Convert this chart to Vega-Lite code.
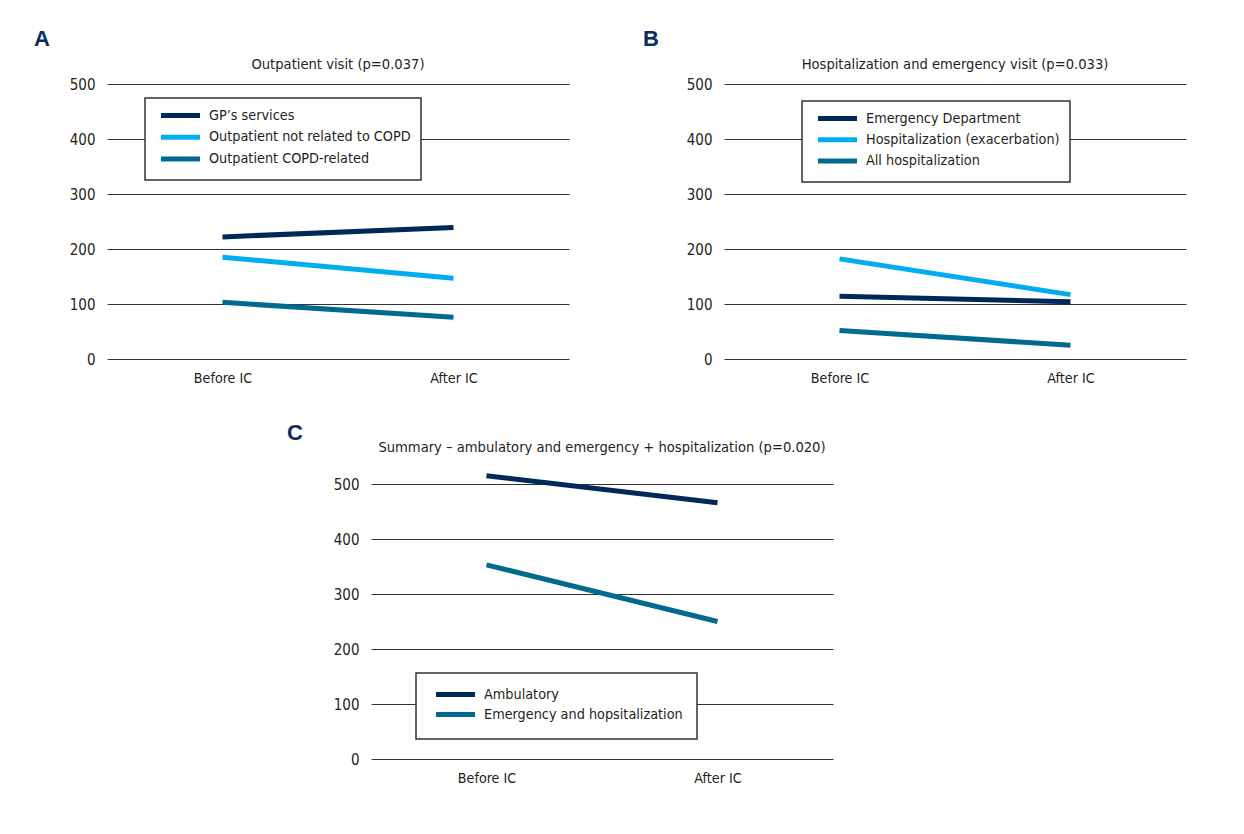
{
  "$schema": "https://vega.github.io/schema/vega-lite/v6.json",
  "background": "white",
  "padding": {"left": 34, "top": 27, "right": 5, "bottom": 5},
  "datasets": {
    "d": [
      {"panel": "A", "series": "GP’s services", "period": "Before IC", "value": 222},
      {"panel": "A", "series": "GP’s services", "period": "After IC", "value": 239},
      {"panel": "A", "series": "Outpatient not related to COPD", "period": "Before IC", "value": 185},
      {"panel": "A", "series": "Outpatient not related to COPD", "period": "After IC", "value": 147},
      {"panel": "A", "series": "Outpatient COPD-related", "period": "Before IC", "value": 103},
      {"panel": "A", "series": "Outpatient COPD-related", "period": "After IC", "value": 76},
      {"panel": "B", "series": "Emergency Department", "period": "Before IC", "value": 114},
      {"panel": "B", "series": "Emergency Department", "period": "After IC", "value": 104},
      {"panel": "B", "series": "Hospitalization (exacerbation)", "period": "Before IC", "value": 182},
      {"panel": "B", "series": "Hospitalization (exacerbation)", "period": "After IC", "value": 117},
      {"panel": "B", "series": "All hospitalization", "period": "Before IC", "value": 52},
      {"panel": "B", "series": "All hospitalization", "period": "After IC", "value": 25},
      {"panel": "C", "series": "Ambulatory", "period": "Before IC", "value": 515},
      {"panel": "C", "series": "Ambulatory", "period": "After IC", "value": 466},
      {"panel": "C", "series": "Emergency and hopsitalization", "period": "Before IC", "value": 353},
      {"panel": "C", "series": "Emergency and hopsitalization", "period": "After IC", "value": 250}
    ]
  },
  "config": {
    "view": {"stroke": null},
    "font": "DejaVu Sans Condensed, Liberation Sans Narrow, sans-serif",
    "axis": {"labelFont": "DejaVu Sans Condensed, Liberation Sans Narrow, sans-serif", "labelColor": "#231f20", "domain": false, "ticks": false, "tickSize": 0},
    "axisY": {"grid": true, "gridColor": "#333333", "gridWidth": 1, "labelFontSize": 15, "labelPadding": 12},
    "axisX": {"grid": false, "labelFontSize": 14.2, "labelPadding": 12, "labelAngle": 0},
    "title": {"font": "DejaVu Sans Condensed, Liberation Sans Narrow, sans-serif", "fontSize": 14.6, "fontWeight": "normal", "color": "#231f20"},
    "legend": {
      "labelFont": "DejaVu Sans Condensed, Liberation Sans Narrow, sans-serif",
      "labelFontSize": 14.3,
      "labelColor": "#231f20",
      "symbolType": "M-3.9,0H3.9",
      "symbolSize": 100,
      "symbolStrokeWidth": 5,
      "symbolOffset": 18,
      "labelOffset": 21,
      "padding": 10,
      "rowPadding": 0.8,
      "strokeColor": "#333333",
      "strokeWidth": 1.5,
      "fillColor": "white",
      "labelLimit": 400
    }
  },
  "columns": 1,
  "align": "none",
  "spacing": 36,
  "resolve": {"scale": {"color": "independent", "x": "independent", "y": "independent"}, "legend": {"color": "independent"}},
  "concat": [
    {
      "spacing": 74,
      "resolve": {"scale": {"color": "independent", "x": "independent", "y": "independent"}, "legend": {"color": "independent"}},
      "hconcat": [
        {
          "title": {"text": "A", "anchor": "start", "frame": "bounds", "offset": 6.5, "fontSize": 22, "fontWeight": "bold", "font": "Liberation Sans, Arial, sans-serif", "color": "#0b2d5e"},
          "vconcat": [
            {
              "width": 462,
              "height": 275,
              "title": {"text": "Outpatient visit (p=0.037)", "frame": "group", "anchor": "middle", "offset": 5},
              "data": {"name": "d"},
              "transform": [{"filter": "datum.panel === 'A'"}],
              "mark": {"type": "line", "strokeWidth": 5},
              "encoding": {
                "x": {"field": "period", "type": "nominal", "sort": ["Before IC", "After IC"], "scale": {"type": "point", "padding": 0.5}, "axis": {"title": null}},
                "y": {"field": "value", "type": "quantitative", "scale": {"domain": [0, 500], "nice": false}, "axis": {"title": null, "values": [0, 100, 200, 300, 400, 500], "minExtent": 73, "maxExtent": 73}},
                "color": {
                  "field": "series", "type": "nominal",
                  "sort": ["GP’s services", "Outpatient not related to COPD", "Outpatient COPD-related"],
                  "scale": {"domain": ["GP’s services", "Outpatient not related to COPD", "Outpatient COPD-related"], "range": ["#00295b", "#00aeef", "#006a8f"]},
                  "legend": {"title": null, "orient": "none", "legendX": 38, "legendY": 14}
                }
              }
            }
          ]
        },
        {
          "title": {"text": "B", "anchor": "start", "frame": "bounds", "offset": 6.5, "fontSize": 22, "fontWeight": "bold", "font": "Liberation Sans, Arial, sans-serif", "color": "#0b2d5e"},
          "vconcat": [
            {
              "width": 462,
              "height": 275,
              "title": {"text": "Hospitalization and emergency visit (p=0.033)", "frame": "group", "anchor": "middle", "offset": 5},
              "data": {"name": "d"},
              "transform": [{"filter": "datum.panel === 'B'"}],
              "mark": {"type": "line", "strokeWidth": 5},
              "encoding": {
                "x": {"field": "period", "type": "nominal", "sort": ["Before IC", "After IC"], "scale": {"type": "point", "padding": 0.5}, "axis": {"title": null}},
                "y": {"field": "value", "type": "quantitative", "scale": {"domain": [0, 500], "nice": false}, "axis": {"title": null, "values": [0, 100, 200, 300, 400, 500], "minExtent": 81, "maxExtent": 81}},
                "color": {
                  "field": "series", "type": "nominal",
                  "sort": ["Emergency Department", "Hospitalization (exacerbation)", "All hospitalization"],
                  "scale": {"domain": ["Emergency Department", "Hospitalization (exacerbation)", "All hospitalization"], "range": ["#00295b", "#00aeef", "#006a8f"]},
                  "legend": {"title": null, "orient": "none", "legendX": 78, "legendY": 17, "rowPadding": 0.3}
                }
              }
            }
          ]
        }
      ]
    },
    {
      "spacing": 0,
      "resolve": {"scale": {"color": "independent", "x": "independent", "y": "independent"}, "legend": {"color": "independent"}},
      "hconcat": [
        {
          "width": 150,
          "height": 10,
          "data": {"values": [{}]},
          "mark": {"type": "rule", "strokeOpacity": 0, "opacity": 0},
          "encoding": {}
        },
        {
          "title": {"text": "C", "anchor": "start", "frame": "bounds", "offset": -5, "dx": 30, "fontSize": 22, "fontWeight": "bold", "font": "Liberation Sans, Arial, sans-serif", "color": "#0b2d5e"},
          "vconcat": [
            {
              "width": 462,
              "height": 275,
              "title": {"text": "Summary – ambulatory and emergency + hospitalization (p=0.020)", "frame": "group", "anchor": "middle", "offset": 11},
              "data": {"name": "d"},
              "transform": [{"filter": "datum.panel === 'C'"}],
              "mark": {"type": "line", "strokeWidth": 5},
              "encoding": {
                "x": {"field": "period", "type": "nominal", "sort": ["Before IC", "After IC"], "scale": {"type": "point", "padding": 0.5}, "axis": {"title": null}},
                "y": {"field": "value", "type": "quantitative", "scale": {"domain": [0, 500], "nice": false}, "axis": {"title": null, "values": [0, 100, 200, 300, 400, 500], "minExtent": 114, "maxExtent": 114}},
                "color": {
                  "field": "series", "type": "nominal",
                  "sort": ["Ambulatory", "Emergency and hopsitalization"],
                  "scale": {"domain": ["Ambulatory", "Emergency and hopsitalization"], "range": ["#00295b", "#006a8f"]},
                  "legend": {"title": null, "orient": "none", "legendX": 45, "legendY": 189, "padding": 14, "rowPadding": -1}
                }
              }
            }
          ]
        }
      ]
    }
  ]
}
